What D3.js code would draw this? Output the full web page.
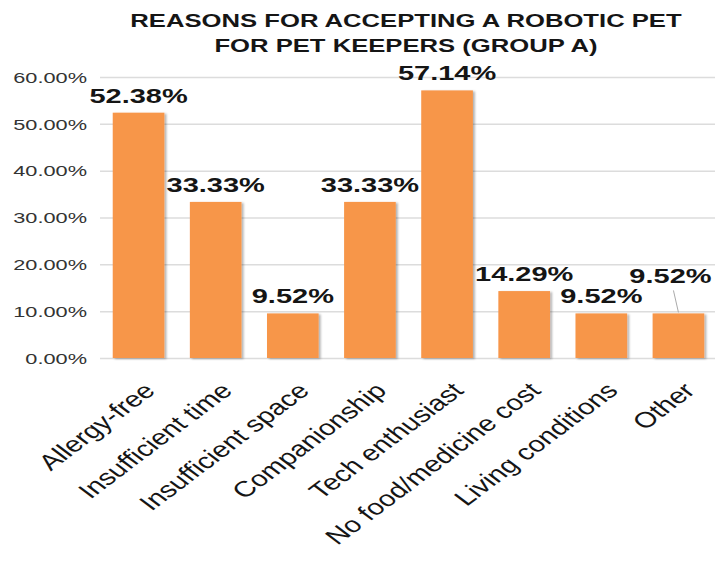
<!DOCTYPE html>
<html>
<head>
<meta charset="utf-8">
<script src="https://cdn.jsdelivr.net/npm/d3@7"></script>
<style>
  body { margin: 0; background: #fff; }
  svg { display: block; font-family: "Liberation Sans", Arial, Helvetica, sans-serif; }
</style>
</head>
<body>
<div id="chart"></div>
<script>
const categories = ['Allergy-free', 'Insufficient time', 'Insufficient space', 'Companionship',
    'Tech enthusiast', 'No food/medicine cost', 'Living conditions', 'Other'];
const shares = [52.38, 33.33, 9.52, 33.33, 57.14, 14.29, 9.52, 9.52];
const yTicks = [0, 10, 20, 30, 40, 50, 60];
const titleLines = ['REASONS FOR ACCEPTING A ROBOTIC PET', 'FOR PET KEEPERS (GROUP A)'];

const width = 715,
    height = 565;
const margin = {top: 77, right: -2, bottom: 207, left: 100};
const barColor = '#f7964a';
// picture is stretched sideways, so text is too
const stretch = 1.45;

const svg = d3.select('#chart').append('svg')
    .attr('width', width)
    .attr('height', height);

const defs = svg.append('defs');
const shadow = defs.append('filter')
    .attr('id', 'barShadow')
    .attr('x', '-10%').attr('y', '-10%')
    .attr('width', '130%').attr('height', '130%');
shadow.append('feDropShadow')
    .attr('dx', 2).attr('dy', 1)
    .attr('stdDeviation', 1.2)
    .attr('flood-color', '#000')
    .attr('flood-opacity', 0.3);

const xScale = d3.scaleBand()
    .domain(categories)
    .range([margin.left, width - margin.right])
    .paddingInner(0.33)
    .paddingOuter(0.165);

const yScale = d3.scaleLinear()
    .domain([0, 60])
    .range([height - margin.bottom, margin.top]);

// grid + tick labels
const yAxis = d3.axisLeft(yScale)
    .tickValues(yTicks)
    .tickSize(-(width - margin.left))
    .tickFormat(d => d.toFixed(2) + '%');

const gY = svg.append('g')
    .attr('class', 'y axis')
    .attr('transform', `translate(${margin.left},0)`)
    .call(yAxis);

gY.select('.domain').remove();
gY.selectAll('.tick line')
    .attr('stroke', '#dcdcdc')
    .attr('stroke-width', 1.5);
gY.selectAll('.tick text').remove();
gY.selectAll('.tick').append('g')
    .attr('transform', `translate(-13,0) scale(${stretch},1)`)
    .append('text')
    .attr('text-anchor', 'end')
    .attr('dy', '0.35em')
    .attr('font-size', 15)
    .attr('fill', '#333')
    .text(d => d.toFixed(2) + '%');

// bars
svg.append('g')
    .selectAll('rect')
    .data(shares)
    .enter().append('rect')
    .attr('x', (d, i) => xScale(categories[i]))
    .attr('y', d => yScale(d))
    .attr('width', xScale.bandwidth())
    .attr('height', d => yScale(0) - yScale(d))
    .attr('fill', barColor)
    .attr('filter', 'url(#barShadow)');

// the last label was dragged up and left, with a leader line
const lastIdx = shares.length - 1;
const lastShift = {dx: -8, dy: -20};

const lastCx = xScale(categories[lastIdx]) + xScale.bandwidth() / 2;
svg.append('line')
    .attr('x1', lastCx - 5)
    .attr('y1', yScale(shares[lastIdx]) - 23)
    .attr('x2', lastCx)
    .attr('y2', yScale(shares[lastIdx]) - 1)
    .attr('stroke', '#aaa')
    .attr('stroke-width', 1);

// value labels
svg.append('g')
    .selectAll('g')
    .data(shares)
    .enter().append('g')
    .attr('transform', (d, i) => {
        let cx = xScale(categories[i]) + xScale.bandwidth() / 2;
        let cy = yScale(d) - 10;
        if (i === lastIdx) {
            cx += lastShift.dx;
            cy += lastShift.dy;
        }
        return `translate(${cx},${cy}) scale(${stretch},1)`;
    })
    .append('text')
    .attr('text-anchor', 'middle')
    .attr('font-size', 20)
    .attr('font-weight', 'bold')
    .attr('fill', '#151515')
    .text(d => d.toFixed(2) + '%');

// category labels, rotated then stretched like the rest
svg.append('g')
    .selectAll('g')
    .data(categories)
    .enter().append('g')
    .attr('transform', d => `translate(${xScale(d) + xScale.bandwidth() / 2 + 18},${yScale(0) + 34}) scale(1.33,1) rotate(-45)`)
    .append('text')
    .attr('text-anchor', 'end')
    .attr('font-size', 22)
    .attr('fill', '#151515')
    .text(d => d);

// title
svg.append('g')
    .selectAll('g')
    .data(titleLines)
    .enter().append('g')
    .attr('transform', (d, i) => `translate(406,${27 + i * 24.5}) scale(1.35,1)`)
    .append('text')
    .attr('text-anchor', 'middle')
    .attr('font-size', 19)
    .attr('font-weight', 'bold')
    .attr('fill', '#151515')
    .text(d => d);
</script>
</body>
</html>
